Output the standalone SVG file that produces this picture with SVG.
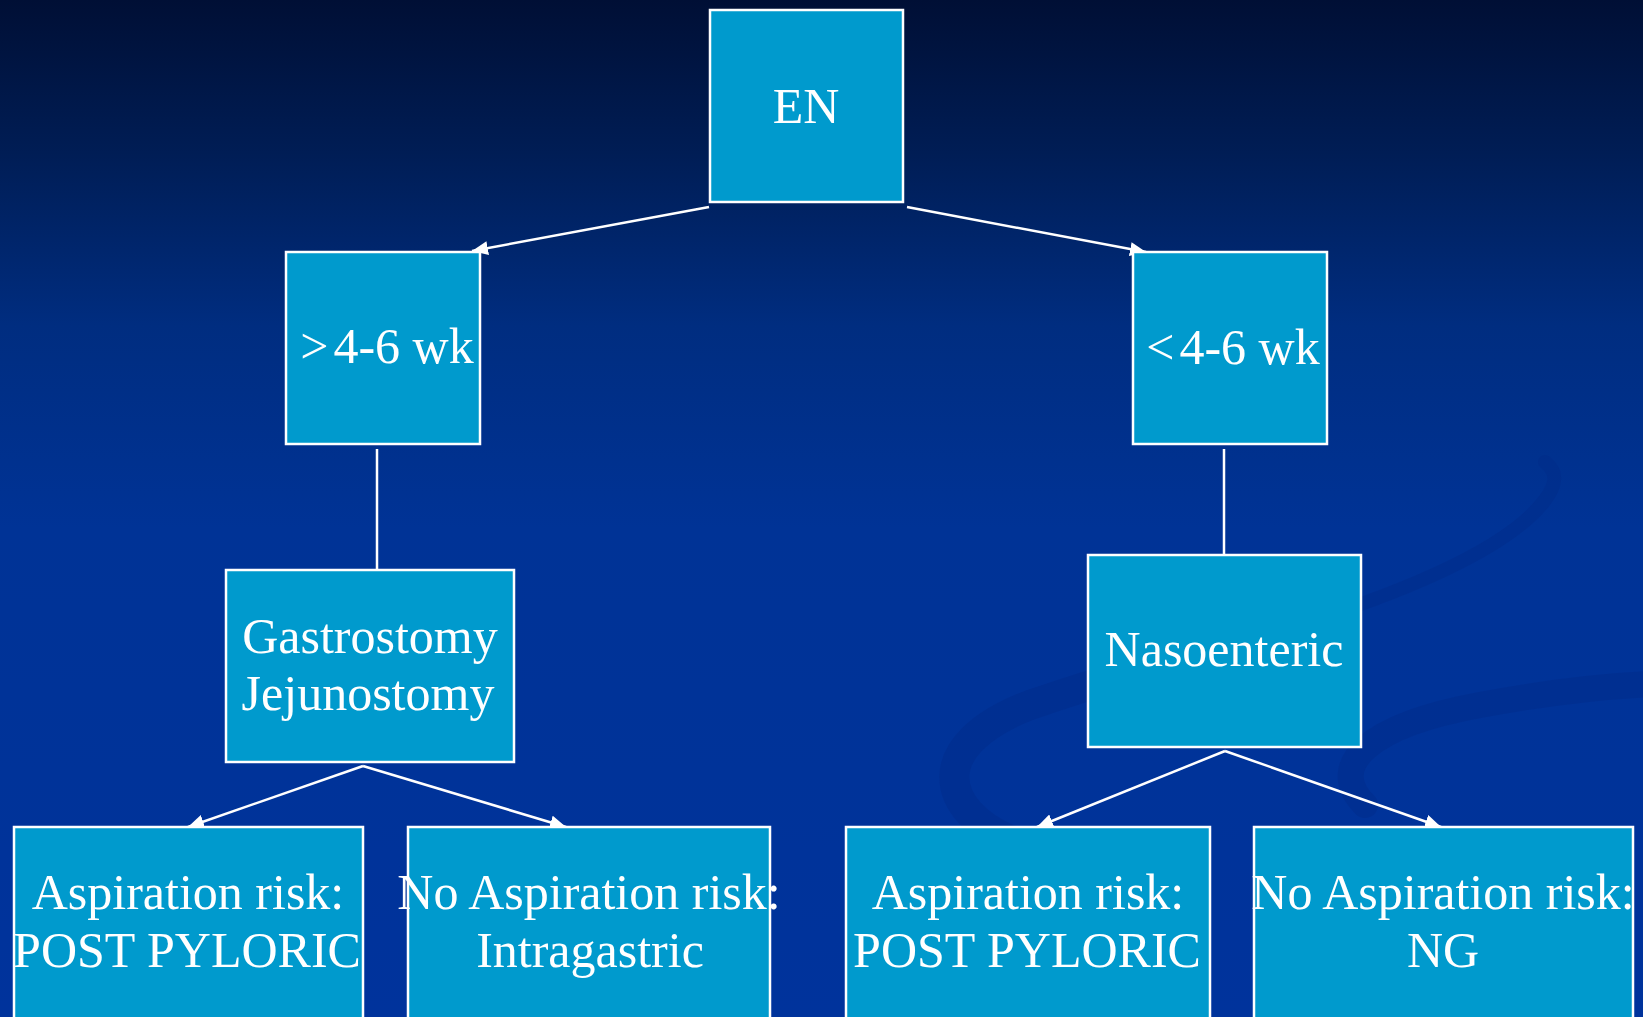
<svg xmlns="http://www.w3.org/2000/svg" width="1643" height="1017" viewBox="0 0 1643 1017">
  <defs>
    <linearGradient id="bg" x1="0" y1="0" x2="0" y2="1">
      <stop offset="0" stop-color="#000f35"/>
      <stop offset="0.15" stop-color="#001d55"/>
      <stop offset="0.32" stop-color="#002d80"/>
      <stop offset="0.52" stop-color="#003396"/>
      <stop offset="1" stop-color="#00339c"/>
    </linearGradient>
    <marker id="arrow" markerUnits="userSpaceOnUse" markerWidth="18" markerHeight="14" refX="16" refY="7" orient="auto">
      <path d="M0,0 L16,7 L0,14 Z" fill="#ffffff"/>
    </marker>
    <style>
      .box { fill: #009acd; stroke: #ffffff; stroke-width: 2.5; }
      .lbl { font-family: "Liberation Serif", "Times New Roman", serif; font-size: 50px; fill: #ffffff; text-anchor: middle; }
      .conn { stroke: #ffffff; stroke-width: 2.5; fill: none; }
      .swoosh { fill: none; stroke: #002a88; stroke-linecap: round; opacity: 0.4; }
    </style>
  </defs>

  <rect x="0" y="0" width="1643" height="1017" fill="url(#bg)"/>

  <g id="background-swoosh">
    <path class="swoosh" stroke-width="30" d="M1010,840 C940,810 925,745 1030,705 C1080,688 1120,675 1170,662"/>
    <path class="swoosh" stroke-width="14" opacity="0.25" d="M1170,662 C1350,615 1500,560 1545,500 C1560,480 1555,470 1545,462"/>
    <path class="swoosh" stroke-width="26" d="M1365,805 C1325,765 1370,725 1480,705 C1560,690 1610,686 1650,684"/>
  </g>

  <g id="connectors">
    <line class="conn" x1="709" y1="207" x2="472" y2="251" marker-end="url(#arrow)"/>
    <line class="conn" x1="907" y1="207" x2="1146" y2="252" marker-end="url(#arrow)"/>
    <line class="conn" x1="377" y1="449" x2="377" y2="569"/>
    <line class="conn" x1="1224" y1="449" x2="1224" y2="554"/>
    <line class="conn" x1="363" y1="766" x2="188" y2="827" marker-end="url(#arrow)"/>
    <line class="conn" x1="363" y1="766" x2="566" y2="827" marker-end="url(#arrow)"/>
    <line class="conn" x1="1225" y1="751" x2="1037" y2="827" marker-end="url(#arrow)"/>
    <line class="conn" x1="1225" y1="751" x2="1441" y2="827" marker-end="url(#arrow)"/>
  </g>

  <g id="node-en">
    <rect class="box" x="710" y="10" width="193" height="192"/>
    <text class="lbl" x="806" y="123">EN</text>
  </g>

  <g id="node-gt46">
    <rect class="box" x="286" y="252" width="194" height="192"/>
    <text class="lbl" x="387" y="363">&gt;<tspan dx="5">4-6 wk</tspan></text>
  </g>

  <g id="node-lt46">
    <rect class="box" x="1133" y="252" width="194" height="192"/>
    <text class="lbl" x="1233" y="364">&lt;<tspan dx="5">4-6 wk</tspan></text>
  </g>

  <g id="node-gastro">
    <rect class="box" x="226" y="570" width="288" height="192"/>
    <text class="lbl" x="370" y="653">Gastrostomy</text>
    <text class="lbl" x="368" y="710">Jejunostomy</text>
  </g>

  <g id="node-naso">
    <rect class="box" x="1088" y="555" width="273" height="192"/>
    <text class="lbl" x="1224" y="666">Nasoenteric</text>
  </g>

  <g id="node-asp-left">
    <rect class="box" x="14" y="827" width="349" height="220"/>
    <text class="lbl" x="188" y="909">Aspiration risk:</text>
    <text class="lbl" x="187" y="967">POST PYLORIC</text>
  </g>

  <g id="node-noasp-left">
    <rect class="box" x="408" y="827" width="362" height="220"/>
    <text class="lbl" x="589" y="909">No Aspiration risk:</text>
    <text class="lbl" x="590" y="967">Intragastric</text>
  </g>

  <g id="node-asp-right">
    <rect class="box" x="846" y="827" width="364" height="220"/>
    <text class="lbl" x="1028" y="909">Aspiration risk:</text>
    <text class="lbl" x="1027" y="967">POST PYLORIC</text>
  </g>

  <g id="node-noasp-right">
    <rect class="box" x="1254" y="827" width="379" height="220"/>
    <text class="lbl" x="1443" y="909">No Aspiration risk:</text>
    <text class="lbl" x="1443" y="967">NG</text>
  </g>
</svg>
